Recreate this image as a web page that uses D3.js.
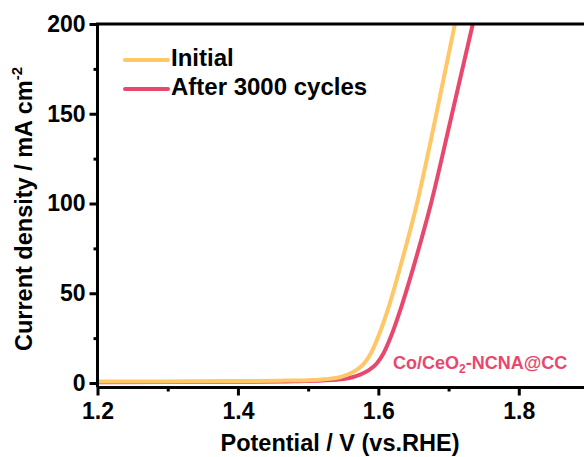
<!DOCTYPE html>
<html>
<head>
<meta charset="utf-8">
<script src="https://cdn.jsdelivr.net/npm/d3@7"></script>
<style>
  body { margin: 0; background: #fff; }
  text { font-family: "Liberation Sans", Arial, sans-serif; font-weight: bold; }
</style>
</head>
<body>
<div id="chart"></div>
<script>
// data (potential in V, current density in mA cm-2)
var initialV = [1.20, 1.30, 1.40, 1.46, 1.50, 1.52, 1.53, 1.545, 1.555, 1.568, 1.58, 1.59, 1.60, 1.616, 1.635, 1.655, 1.68, 1.709],
    initialJ = [0.8, 0.9, 1.1, 1.3, 1.6, 2.0, 2.3, 3.2, 4.5, 7.0, 11, 17, 26, 44, 70, 100, 145, 200];
var afterV = [1.20, 1.30, 1.40, 1.48, 1.52, 1.54, 1.55, 1.563, 1.573, 1.586, 1.598, 1.608, 1.618, 1.634, 1.654, 1.675, 1.702, 1.7345],
    afterJ = [0.4, 0.5, 0.7, 1.0, 1.4, 1.8, 2.2, 3.2, 4.5, 7, 11, 17, 26, 44, 70, 100, 145, 200];
var xTicks = [1.2, 1.4, 1.6, 1.8], xMinor = [1.3, 1.5, 1.7],
    yTicks = [0, 50, 100, 150, 200], yMinor = [25, 75, 125, 175];
var seriesNames = ["Initial", "After 3000 cycles"];

var w = 584, h = 457;
var colInit = "#FFC766", colAfter = "#E8476E";

var svg = d3.select("#chart").append("svg")
    .attr("width", w)
    .attr("height", h);

var x = d3.scaleLinear().domain([1.2, 1.9]).range([97.5, 589]),
    y = d3.scaleLinear().domain([-2.5, 200]).range([387.5, 24]);

var series = [
  {name: seriesNames[0], color: colInit, pts: initialV.map(function(v, i) { return [v, initialJ[i]]; })},
  {name: seriesNames[1], color: colAfter, pts: afterV.map(function(v, i) { return [v, afterJ[i]]; })}
];

var line = d3.line()
    .x(function(d) { return x(d[0]); })
    .y(function(d) { return y(d[1]); })
    .curve(d3.curveMonotoneX);

// curves (after first so initial sits on top)
svg.selectAll(".curve")
    .data(series.slice().reverse())
  .enter().append("path")
    .attr("class", "curve")
    .attr("fill", "none")
    .attr("stroke", function(d) { return d.color; })
    .attr("stroke-width", 4)
    .attr("d", function(d) { return line(d.pts); });

// x axis
var xAxisG = svg.append("g")
    .attr("transform", "translate(0," + y(-2.5) + ")")
    .call(d3.axisBottom(x).tickValues(xTicks).tickSize(8).tickFormat(d3.format(".1f")));
svg.append("g")
    .attr("transform", "translate(0," + y(-2.5) + ")")
    .call(d3.axisBottom(x).tickValues(xMinor).tickSize(4).tickFormat(""))
    .select(".domain").remove();

// y axis
var yAxisG = svg.append("g")
    .attr("transform", "translate(" + x(1.2) + ",0)")
    .call(d3.axisLeft(y).tickValues(yTicks).tickSize(8));
svg.append("g")
    .attr("transform", "translate(" + x(1.2) + ",0)")
    .call(d3.axisLeft(y).tickValues(yMinor).tickSize(4).tickFormat(""))
    .select(".domain").remove();

svg.selectAll(".tick line").attr("stroke", "#000").attr("stroke-width", 3);
xAxisG.select(".domain").attr("stroke", "#000").attr("stroke-width", 3).attr("d", "M" + x(1.2) + ",0H" + w);
yAxisG.select(".domain").attr("stroke", "#000").attr("stroke-width", 3).attr("d", "M0," + y(-2.5) + "V" + y(200));
xAxisG.selectAll(".tick text").attr("font-size", 23).attr("fill", "#000").attr("y", 15);
yAxisG.selectAll(".tick text").attr("font-size", 23).attr("fill", "#000").attr("x", -12);

// top frame line
svg.append("line")
    .attr("x1", x(1.2) - 1.5).attr("x2", w)
    .attr("y1", y(200)).attr("y2", y(200))
    .attr("stroke", "#000").attr("stroke-width", 3);

// axis titles
svg.append("text")
    .attr("x", 340).attr("y", 451)
    .attr("text-anchor", "middle")
    .attr("font-size", 23.5)
    .text("Potential / V (vs.RHE)");

var yt = svg.append("text")
    .attr("transform", "translate(32,209) rotate(-90)")
    .attr("text-anchor", "middle")
    .attr("font-size", 23.5);
yt.append("tspan").text("Current density / mA cm");
yt.append("tspan").attr("font-size", 15).attr("dy", -10).text("-2");

// legend
var legend = svg.append("g").attr("class", "legend");
legend.selectAll("line")
    .data(series)
  .enter().append("line")
    .attr("x1", 125).attr("x2", 168)
    .attr("y1", function(d, i) { return 60 + i * 29; })
    .attr("y2", function(d, i) { return 60 + i * 29; })
    .attr("stroke", function(d) { return d.color; })
    .attr("stroke-width", 4)
    .attr("stroke-linecap", "round");
legend.selectAll("text")
    .data(series)
  .enter().append("text")
    .attr("x", 171)
    .attr("y", function(d, i) { return 66 + i * 29; })
    .attr("font-size", 24)
    .text(function(d) { return d.name; });

// sample label
var lab = svg.append("text")
    .attr("x", 393).attr("y", 369)
    .attr("font-size", 18)
    .attr("fill", colAfter);
lab.append("tspan").text("Co/CeO");
lab.append("tspan").attr("font-size", 12).attr("dy", 4).text("2");
lab.append("tspan").attr("dy", -4).text("-NCNA@CC");
</script>
</body>
</html>
